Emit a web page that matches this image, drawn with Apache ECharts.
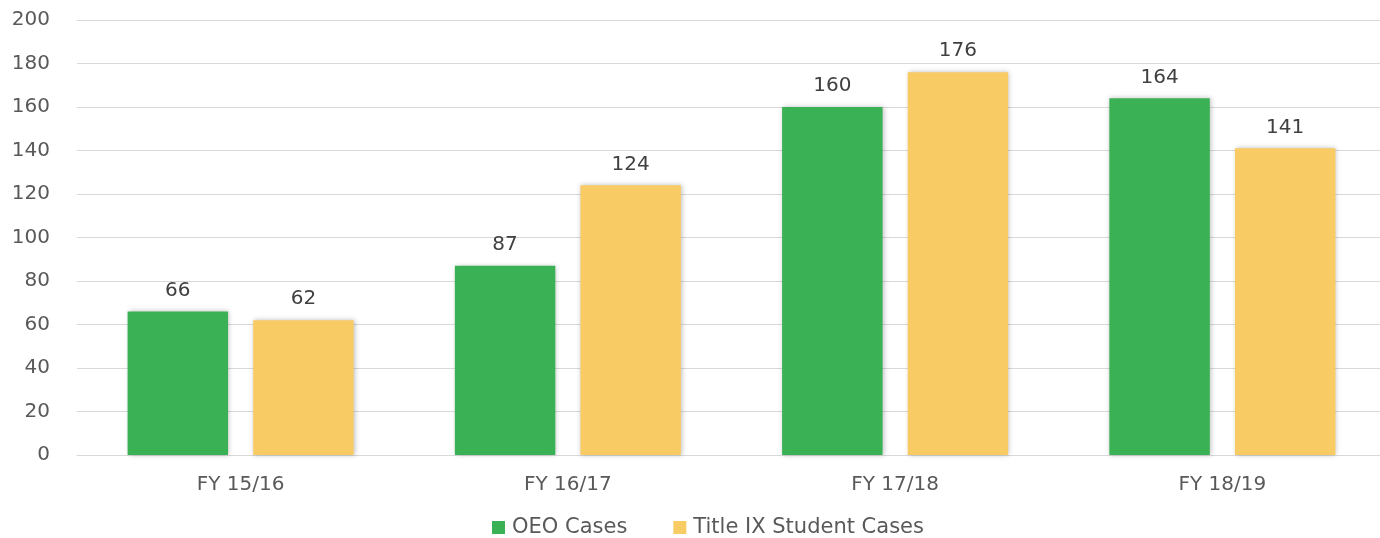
<!DOCTYPE html>
<html>
<head>
<meta charset="utf-8">
<title>OEO and Title IX cases</title>
<script src="https://cdn.jsdelivr.net/npm/echarts@6/dist/echarts.min.js"></script>
<style>
  body { margin: 0; padding: 0; background: #fff; overflow: hidden; }
  /* a few px wider than the window: the plot in the original runs off the right edge */
  #main { width: 1386px; height: 538px; }
</style>
</head>
<body>
<div id="main"></div>
<script>
// data
var categories = ['FY 15/16', 'FY 16/17', 'FY 17/18', 'FY 18/19'];
var oeoCases = [66, 87, 160, 164];
var titleIxCases = [62, 124, 176, 141];
var yTicks = [0, 200, 20]; // min, max, step

var chart = echarts.init(document.getElementById('main'));

var font = 'DejaVu Sans';
var labelStyle = {
  show: true,
  position: 'top',
  distance: 11,
  color: '#404040',
  fontSize: 20,
  fontFamily: font
};

chart.setOption({
  animation: false,
  textStyle: { fontFamily: font },
  grid: { left: 77, right: 0, top: 20, bottom: 83 },
  legend: {
    top: 517,
    left: 492,
    padding: 0,
    icon: 'rect',
    itemWidth: 13,
    itemHeight: 13,
    itemGap: 46,
    textStyle: { color: '#595959', fontSize: 21, fontFamily: font, padding: [0, 0, 0, 2] },
    data: ['OEO Cases', 'Title IX Student Cases']
  },
  xAxis: {
    type: 'category',
    data: categories,
    axisLine: { lineStyle: { color: '#d9d9d9', width: 1 } },
    axisTick: { show: false },
    axisLabel: { color: '#595959', fontSize: 20, margin: 20 }
  },
  yAxis: {
    type: 'value',
    min: yTicks[0],
    max: yTicks[1],
    interval: yTicks[2],
    axisLine: { show: false },
    axisTick: { show: false },
    axisLabel: { color: '#595959', fontSize: 20, margin: 27 },
    splitLine: { lineStyle: { color: '#d9d9d9', width: 1 } }
  },
  series: [
    {
      name: 'OEO Cases',
      type: 'bar',
      data: oeoCases,
      barWidth: '30.7%',
      barGap: '25%',
      itemStyle: {
        color: '#3bb155',
        shadowColor: 'rgba(0,0,0,0.25)',
        shadowBlur: 5,
        shadowOffsetX: 1
      },
      label: labelStyle
    },
    {
      name: 'Title IX Student Cases',
      type: 'bar',
      data: titleIxCases,
      barWidth: '30.7%',
      itemStyle: {
        color: '#f9cb64',
        shadowColor: 'rgba(0,0,0,0.25)',
        shadowBlur: 5,
        shadowOffsetX: 1
      },
      label: labelStyle
    }
  ]
});
</script>
</body>
</html>
